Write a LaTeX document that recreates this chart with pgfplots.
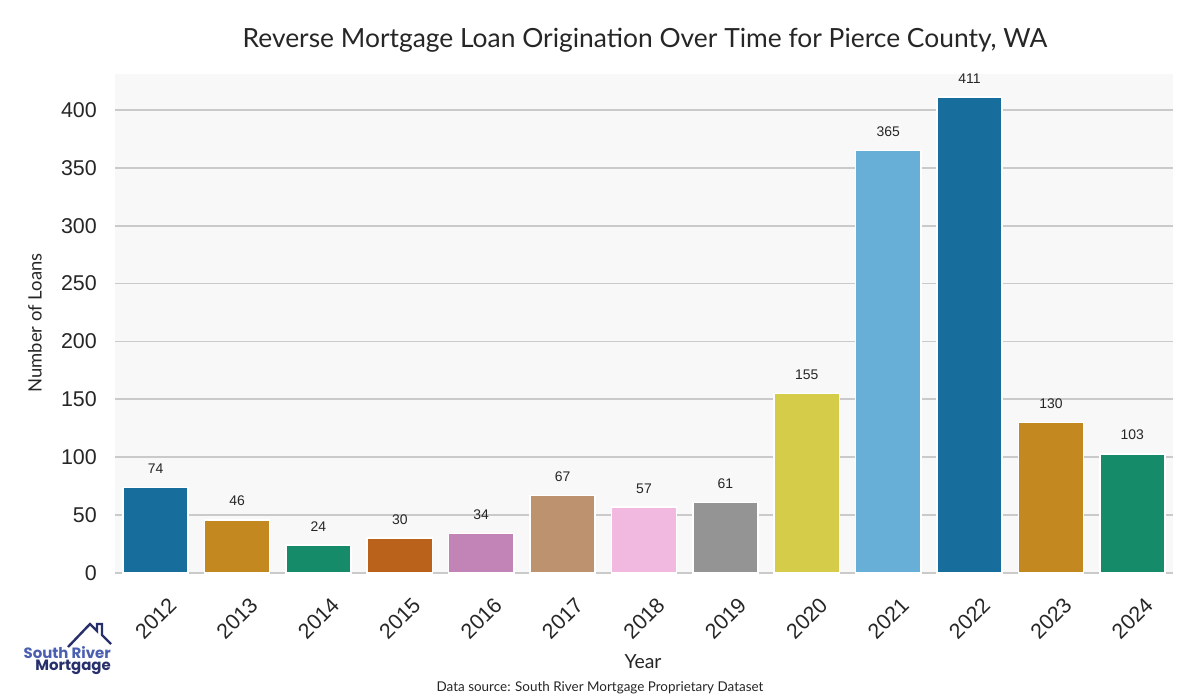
\documentclass[border=0pt]{standalone}
\usepackage{pgfplots}
\pgfplotsset{compat=1.18}
\usepackage{fontspec}
\setmainfont{Lato}
\newfontfamily\arialf{Liberation Sans}
\newfontfamily\logofont{Poppins}
\definecolor{c1}{HTML}{176D9C}
\definecolor{c2}{HTML}{C38820}
\definecolor{c3}{HTML}{158B6A}
\definecolor{c4}{HTML}{BA611B}
\definecolor{c5}{HTML}{C283B6}
\definecolor{c6}{HTML}{BD926E}
\definecolor{c7}{HTML}{F1B8E0}
\definecolor{c8}{HTML}{949494}
\definecolor{c9}{HTML}{D5CD4A}
\definecolor{c10}{HTML}{68AFD7}
\definecolor{bgc}{HTML}{F8F8F8}
\definecolor{gridc}{HTML}{CACACA}
\definecolor{txt}{HTML}{262626}
\definecolor{logoblue}{HTML}{4A5FB0}
\definecolor{logonavy}{HTML}{27306B}
\begin{document}
\begin{tikzpicture}
\begin{axis}[
  at={(0,0)}, anchor=south west,
  scale only axis, width=1058bp, height=499bp,
  xmin=-0.5, xmax=12.5, ymin=0, ymax=431,
  axis background/.style={fill=bgc},
  axis line style={draw=none},
  tick style={draw=none},
  ymajorgrids, grid style={gridc, line width=1.8bp},
  ytick={0,50,...,400},
  xtick={0,...,12},
  xticklabels={2012,2013,2014,2015,2016,2017,2018,2019,2020,2021,2022,2023,2024},
  /pgf/number format/assume math mode=true,
  ticklabel style={font=\arialf\fontsize{21.5}{25}\selectfont, text=txt},
  yticklabel style={anchor=east, inner sep=0pt, xshift=-18bp},
  xticklabel style={inner sep=0pt, anchor=center, yshift=-41bp, rotate=45},
  ybar, bar width=0.8, bar shift=0pt,
  every axis plot/.append style={draw=white, line width=1.6bp},
  nodes near coords,
  every node near coord/.append style={font=\arialf\fontsize{14}{17}\selectfont, text=txt, anchor=south, inner sep=0pt, yshift=13bp, rotate=0},
]
\addplot[fill=c1] coordinates {(0,74)};
\addplot[fill=c2] coordinates {(1,46)};
\addplot[fill=c3] coordinates {(2,24)};
\addplot[fill=c4] coordinates {(3,30)};
\addplot[fill=c5] coordinates {(4,34)};
\addplot[fill=c6] coordinates {(5,67)};
\addplot[fill=c7] coordinates {(6,57)};
\addplot[fill=c8] coordinates {(7,61)};
\addplot[fill=c9] coordinates {(8,155)};
\addplot[fill=c10] coordinates {(9,365)};
\addplot[fill=c1] coordinates {(10,411)};
\addplot[fill=c2] coordinates {(11,130)};
\addplot[fill=c3] coordinates {(12,103)};
\end{axis}
% title and labels
\node[text=txt, font=\fontsize{26.5}{31}\selectfont] at (530bp,533bp) {Reverse Mortgage Loan Origination Over Time for Pierce County, WA};
\node[text=txt, font=\fontsize{18.5}{22}\selectfont, rotate=90] at (-80bp,250bp) {Number of Loans};
\node[text=txt, font=\fontsize{19.5}{23}\selectfont] at (528bp,-89bp) {Year};
\node[text=txt, font=\fontsize{13.5}{16}\selectfont] at (485bp,-115bp) {Data source: South River Mortgage Proprietary Dataset};
% logo
\draw[logonavy, line width=2.4bp, line join=miter] (-47bp,-74bp) -- (-25bp,-51bp) -- (-18bp,-58bp) -- (-18bp,-51bp) -- (-13bp,-51bp) -- (-13bp,-62bp) -- (-4bp,-71bp);
\node[anchor=base east, inner sep=0pt, text=logoblue, font=\logofont\bfseries\fontsize{15}{18}\selectfont] at (-4bp,-85bp) {South River};
\node[anchor=base east, inner sep=0pt, text=logonavy, font=\logofont\bfseries\fontsize{15}{18}\selectfont] at (-4bp,-97bp) {Mortgage};
\path[use as bounding box] (-115bp,-127bp) rectangle (1085bp,573bp);
\end{tikzpicture}
\end{document}
